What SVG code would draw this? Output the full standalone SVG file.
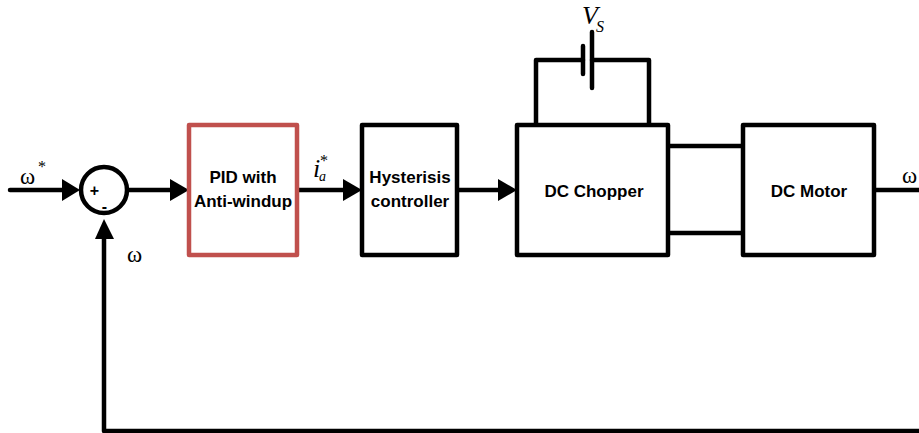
<svg xmlns="http://www.w3.org/2000/svg" width="919" height="433" viewBox="0 0 919 433">
<style>
.b{fill:#fff;stroke:#000;stroke-width:4.5;stroke-linejoin:round}
.l{fill:none;stroke:#000;stroke-width:4.5;stroke-linecap:round;stroke-linejoin:round}
.h{fill:#000;stroke:none}
.t{font:bold 17px "Liberation Sans",Arial,sans-serif;fill:#000;text-anchor:middle}
.s{font:bold 16px "Liberation Sans",Arial,sans-serif;fill:#000;text-anchor:middle}
.w{font:23px "Liberation Serif","Times New Roman",serif;fill:#000}
.st{font:16px "Liberation Serif","Times New Roman",serif;fill:#000}
.i{font:italic 26px "Liberation Serif","Times New Roman",serif;fill:#000}
</style>
<rect width="919" height="433" fill="#fff"/>
<g id="connectors">
<path class="l" d="M10 190H64"/><polygon class="h" points="62,179 80,190 62,201"/>
<path class="l" d="M129 190H172"/><polygon class="h" points="170,179 189,190 170,201"/>
<path class="l" d="M297 190H345"/><polygon class="h" points="343,179 362,190 343,201"/>
<path class="l" d="M457 190H500"/><polygon class="h" points="498,179 517,190 498,201"/>
<path class="l" d="M668 146H743M668 233H743"/>
<path class="l" d="M875 190H919"/>
<path class="l" d="M919 431H104V230"/><polygon class="h" points="95,239 104,219 114,239"/>
<path class="l" d="M536 125V60H583M592 60H649V125"/>
<path class="l" d="M583 46V74M592 32V88"/>
</g>
<g id="sum"><circle cx="104" cy="190" r="23" fill="#fff" stroke="#000" stroke-width="4.5"/>
<text class="s" x="94.500" y="196">+</text>
<text class="s" x="104.500" y="212">-</text></g>
<g id="pid"><rect class="b" x="189" y="125" width="108" height="130" style="stroke:#c0504d"/>
<text class="t" x="243" y="183">PID with</text><text class="t" x="243" y="207">Anti-windup</text></g>
<g id="hysteresis"><rect class="b" x="362" y="125" width="95" height="130"/>
<text class="t" x="410" y="183">Hysterisis</text><text class="t" x="410" y="207">controller</text></g>
<g id="chopper"><rect class="b" x="517" y="125" width="151" height="130"/>
<text class="t" x="594" y="197">DC Chopper</text></g>
<g id="motor"><rect class="b" x="743" y="125" width="131" height="130"/>
<text class="t" x="809" y="197">DC Motor</text></g>
<g id="labels">
<text class="w" x="20" y="184">ω</text><text class="st" x="38" y="172">*</text>
<text class="w" x="127" y="262">ω</text>
<text class="w" x="902" y="183">ω</text>
<text class="i" x="313" y="177">i</text><text class="i" x="319" y="181" style="font-size:14px">a</text><text class="st" x="320" y="166">*</text>
<text class="i" x="582" y="24" style="font-size:26px">V</text><text class="i" x="596" y="32" style="font-size:16px">S</text>
</g>
</svg>
